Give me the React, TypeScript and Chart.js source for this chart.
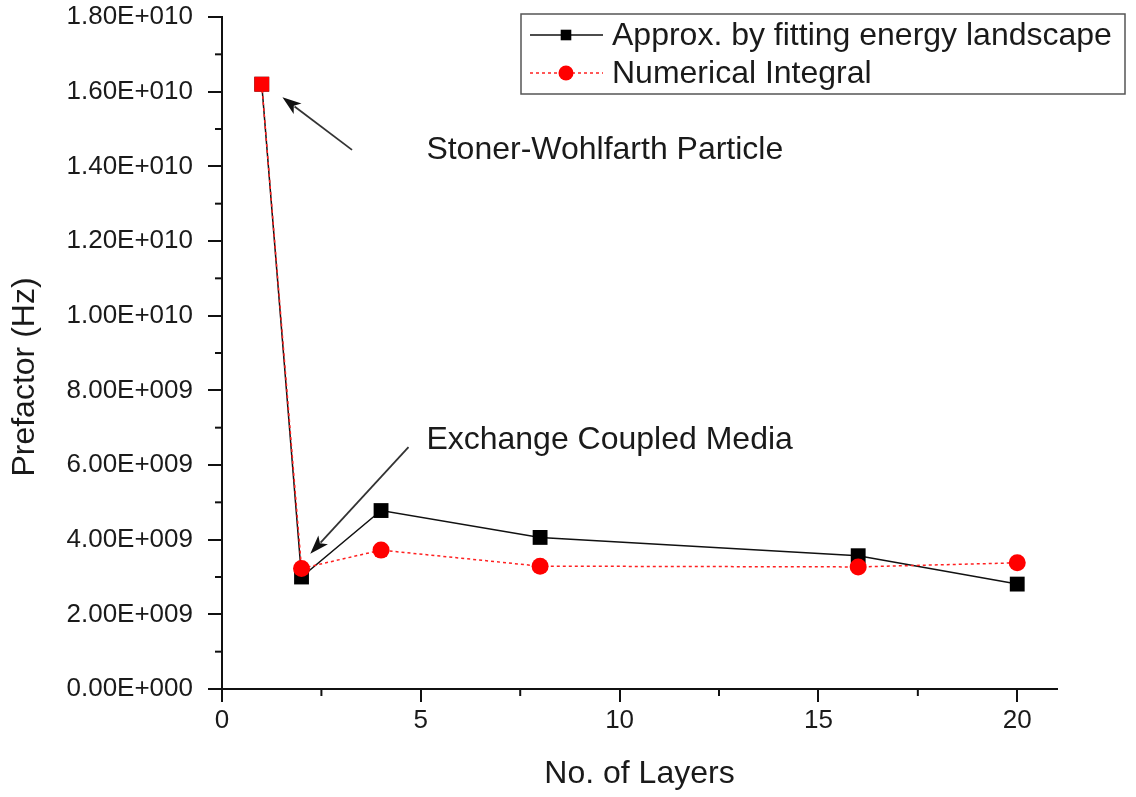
import React, { useEffect, useRef } from 'react';
import { Chart, registerables } from 'chart.js';

Chart.register(...registerables);

// ---- data ----
const layers = [1, 2, 4, 8, 16, 20];
const approxValues = [1.62e10, 3.0e9, 4.78e9, 4.06e9, 3.57e9, 2.81e9];
const numericalValues = [1.62e10, 3.23e9, 3.72e9, 3.29e9, 3.27e9, 3.38e9];
const seriesLabels = ['Approx. by fitting energy landscape', 'Numerical Integral'];
const xTitle = 'No. of Layers';
const yTitle = 'Prefactor (Hz)';
const xMajorTicks = [0, 5, 10, 15, 20];
const xMinorTicks = [2.5, 7.5, 12.5, 17.5];
const yMajorTicks = [0, 2e9, 4e9, 6e9, 8e9, 1e10, 1.2e10, 1.4e10, 1.6e10, 1.8e10];
const yMinorTicks = [1e9, 3e9, 5e9, 7e9, 9e9, 1.1e10, 1.3e10, 1.5e10, 1.7e10];
const annotationTexts = ['Stoner-Wohlfarth Particle', 'Exchange Coupled Media'];
// annotation anchor points in data units: [text x, text y, arrow tail x, tail y, arrow head x, head y]
const annotationAnchors = [
  [5.14, 1.444e10, 3.27, 1.444e10, 1.52, 1.585e10],
  [5.14, 6.67e9, 4.69, 6.48e9, 2.22, 3.62e9],
];

const FONT = "'Liberation Sans', Arial, Helvetica, sans-serif";
const TEXT = '#1a1a1a';

function fmtE(v: number): string {
  if (v === 0) return '0.00E+000';
  const e = Math.floor(Math.log10(Math.abs(v)) + 1e-9);
  const m = v / Math.pow(10, e);
  return m.toFixed(2) + 'E' + (e < 0 ? '-' : '+') + String(Math.abs(e)).padStart(3, '0');
}

function drawMarker(ctx: CanvasRenderingContext2D, style: string, x: number, y: number, r: number, color: string) {
  ctx.fillStyle = color;
  ctx.beginPath();
  if (style === 'rect') {
    const s = Math.SQRT1_2 * r;
    ctx.rect(x - s, y - s, 2 * s, 2 * s);
  } else {
    ctx.arc(x, y, r, 0, Math.PI * 2);
  }
  ctx.fill();
}

const decorPlugin = {
  id: 'decor',
  afterDraw(chart: any) {
    const { ctx } = chart;
    const xs = chart.scales.x;
    const ys = chart.scales.y;
    ctx.save();
    // minor ticks
    ctx.strokeStyle = '#111';
    ctx.lineWidth = 2;
    xMinorTicks.forEach((v) => {
      const px = xs.getPixelForValue(v);
      ctx.beginPath();
      ctx.moveTo(px, ys.bottom);
      ctx.lineTo(px, ys.bottom + 7);
      ctx.stroke();
    });
    yMinorTicks.forEach((v) => {
      const py = ys.getPixelForValue(v);
      ctx.beginPath();
      ctx.moveTo(xs.left, py);
      ctx.lineTo(xs.left - 7, py);
      ctx.stroke();
    });

    // annotations with arrows
    ctx.font = `32px ${FONT}`;
    ctx.textAlign = 'left';
    ctx.textBaseline = 'middle';
    annotationTexts.forEach((t, i) => {
      const a = annotationAnchors[i];
      ctx.fillStyle = TEXT;
      ctx.fillText(t, xs.getPixelForValue(a[0]), ys.getPixelForValue(a[1]));
      const x1 = xs.getPixelForValue(a[2]);
      const y1 = ys.getPixelForValue(a[3]);
      const x2 = xs.getPixelForValue(a[4]);
      const y2 = ys.getPixelForValue(a[5]);
      const ang = Math.atan2(y2 - y1, x2 - x1);
      const hl = 19;
      const hw = 6.5;
      ctx.strokeStyle = '#333';
      ctx.lineWidth = 1.8;
      ctx.beginPath();
      ctx.moveTo(x1, y1);
      ctx.lineTo(x2 - Math.cos(ang) * hl * 0.8, y2 - Math.sin(ang) * hl * 0.8);
      ctx.stroke();
      ctx.fillStyle = '#111';
      ctx.beginPath();
      ctx.moveTo(x2, y2);
      ctx.lineTo(x2 - Math.cos(ang) * hl + Math.sin(ang) * hw, y2 - Math.sin(ang) * hl - Math.cos(ang) * hw);
      ctx.lineTo(x2 - Math.cos(ang) * hl * 0.75, y2 - Math.sin(ang) * hl * 0.75);
      ctx.lineTo(x2 - Math.cos(ang) * hl - Math.sin(ang) * hw, y2 - Math.sin(ang) * hl + Math.cos(ang) * hw);
      ctx.closePath();
      ctx.fill();
    });

    // y axis title
    ctx.save();
    ctx.translate(25, (ys.top + ys.bottom) / 2 + 24);
    ctx.rotate(-Math.PI / 2);
    ctx.textAlign = 'center';
    ctx.textBaseline = 'middle';
    ctx.fillStyle = TEXT;
    ctx.font = `32px ${FONT}`;
    ctx.fillText(yTitle, 0, 0);
    ctx.restore();

    // legend
    const box = { left: 521, top: 14, right: 1125, bottom: 94 };
    ctx.fillStyle = '#fff';
    ctx.fillRect(box.left, box.top, box.right - box.left, box.bottom - box.top);
    ctx.strokeStyle = '#555';
    ctx.lineWidth = 1.5;
    ctx.strokeRect(box.left, box.top, box.right - box.left, box.bottom - box.top);
    const rowsY = [35, 73];
    chart.data.datasets.forEach((ds: any, i: number) => {
      const ry = rowsY[i];
      ctx.strokeStyle = ds.borderColor;
      ctx.lineWidth = ds.borderWidth;
      ctx.setLineDash(ds.borderDash || []);
      ctx.beginPath();
      ctx.moveTo(530, ry);
      ctx.lineTo(603, ry);
      ctx.stroke();
      ctx.setLineDash([]);
      drawMarker(ctx, i === 0 ? 'rect' : 'circle', 566, ry, i === 0 ? 7.5 : 7.5, i === 0 ? '#000' : '#ff0000');
      ctx.fillStyle = TEXT;
      ctx.font = `32px ${FONT}`;
      ctx.textAlign = 'left';
      ctx.textBaseline = 'middle';
      ctx.fillText(ds.label, 612, ry + 1);
    });
    ctx.restore();
  },
};

export default function App() {
  const ref = useRef<HTMLCanvasElement | null>(null);

  useEffect(() => {
    if (!ref.current) return;
    const chart = new Chart(ref.current, {
      type: 'line',
      data: {
        datasets: [
          {
            label: seriesLabels[0],
            data: layers.map((x, i) => ({ x, y: approxValues[i] })),
            borderColor: '#111',
            borderWidth: 1.5,
            backgroundColor: '#000',
            pointStyle: 'rect',
            pointRadius: 10.5,
            pointBackgroundColor: '#000',
            pointBorderColor: '#000',
            pointBorderWidth: 0,
            order: 1,
          },
          {
            label: seriesLabels[1],
            data: layers.map((x, i) => ({ x, y: numericalValues[i] })),
            borderColor: '#ff2020',
            borderWidth: 1.5,
            borderDash: [3, 3],
            backgroundColor: '#ff0000',
            pointStyle: ['rect', 'circle', 'circle', 'circle', 'circle', 'circle'],
            pointRadius: [10.5, 8.5, 8.5, 8.5, 8.5, 8.5],
            pointBackgroundColor: '#ff0000',
            pointBorderColor: '#ff0000',
            pointBorderWidth: 0,
            order: 0,
          },
        ],
      },
      options: {
        animation: false,
        responsive: false,
        devicePixelRatio: 1,
        layout: { padding: { top: 17, right: 79, left: 0, bottom: 0 } },
        plugins: { legend: { display: false }, tooltip: { enabled: false } },
        scales: {
          x: {
            type: 'linear',
            min: 0,
            max: 21,
            afterFit: (s: any) => {
              s.height = 108;
              s.paddingLeft = 0;
              s.paddingRight = 0;
            },
            afterBuildTicks: (s: any) => {
              s.ticks = xMajorTicks.map((v) => ({ value: v }));
            },
            ticks: {
              font: { size: 26, family: FONT },
              color: TEXT,
              padding: 3,
              maxRotation: 0,
            },
            grid: { display: true, drawOnChartArea: false, drawTicks: true, tickLength: 13, color: '#111', lineWidth: 2 },
            border: { display: true, color: '#111', width: 2 },
            title: {
              display: true,
              text: xTitle,
              font: { size: 32, family: FONT },
              color: TEXT,
              padding: { top: 0, bottom: 4 },
            },
          },
          y: {
            type: 'linear',
            min: 0,
            max: 1.8e10,
            afterFit: (s: any) => {
              s.width = 222;
              s.paddingTop = 0;
              s.paddingBottom = 0;
            },
            afterBuildTicks: (s: any) => {
              s.ticks = yMajorTicks.map((v) => ({ value: v }));
            },
            ticks: {
              font: { size: 26, family: FONT },
              color: TEXT,
              padding: 15,
              callback: (v: any) => fmtE(Number(v)),
            },
            grid: { display: true, drawOnChartArea: false, drawTicks: true, tickLength: 14, color: '#111', lineWidth: 2 },
            border: { display: true, color: '#111', width: 2 },
          },
        },
      },
      plugins: [decorPlugin],
    });
    return () => chart.destroy();
  }, []);

  return (
    <div style={{ position: 'fixed', left: 0, top: 0, width: 1136, height: 797, background: '#fff' }}>
      <canvas ref={ref} width={1136} height={797} style={{ width: 1136, height: 797, display: 'block' }} />
    </div>
  );
}
